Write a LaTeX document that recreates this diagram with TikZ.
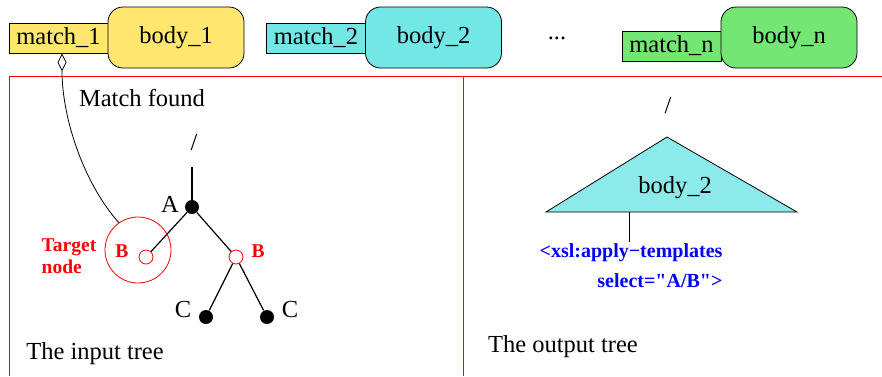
\documentclass[tikz,border=0pt]{standalone}
\usepackage{fontspec}
\setmainfont{Liberation Serif}
\usetikzlibrary{arrows.meta}
\definecolor{tplyellow}{HTML}{FFE66E}
\definecolor{tplcyan}{HTML}{73E6E6}
\definecolor{tplgreen}{HTML}{73E673}
\definecolor{outcyan}{HTML}{8CEAEA}
\tikzset{
every picture/.style={
line width=0.8pt
},
bigtext/.style={font=\fontsize{24.5}{28}\selectfont},
matchbox/.style={draw, fill=#1, bigtext, minimum width=99pt, minimum height=30pt, inner sep=0pt},
bodybox/.style={draw, fill=#1, bigtext, rounded corners=15pt, minimum width=136pt, minimum height=61pt, inner sep=0pt},
blackdot/.style={circle, fill=black, minimum size=14pt, inner sep=0pt},
hollowdot/.style={circle, draw=red, fill=white, minimum size=14pt, inner sep=0pt},
redbold/.style={text=red, font=\bfseries\fontsize{19.5}{22}\selectfont},
bluebold/.style={text=blue, font=\bfseries\fontsize{20}{30}\selectfont}
}

\begin{document}
\begin{tikzpicture}[x=1pt, y=-1pt]
      \useasboundingbox (0,0) rectangle (882,376);
      % templates
      \node [matchbox=tplyellow] (m1) at (58.5, 38) {match\_1};
      \node [bodybox=tplyellow] (b1) at (176, 37.5) {body\_1};
      \node [matchbox=tplcyan] (m2) at (316, 38) {match\_2};
      \node [bodybox=tplcyan] (b2) at (433.5, 37.5) {body\_2};
      \node [bigtext] (dots) at (557, 38) {...};
      \node [matchbox=tplgreen] (mn) at (671.5, 46) {match\_n};
      \node [bodybox=tplgreen] (bn) at (789, 37.5) {body\_n};
      % frames
      \draw [red, line width=1pt] (882, 76) -- (9, 76) -- (9, 376);
      \draw [red, line width=1pt] (463, 76) -- (463, 376);
      % input tree
      \node [bigtext] (inroot) at (194, 143) {/};
      \coordinate (intop) at (192, 167);
      \node [blackdot] (a) at (192, 207) {};
      \node [hollowdot] (bl) at (146, 257) {};
      \node [hollowdot] (br) at (236, 257) {};
      \node [blackdot] (cl) at (206, 317) {};
      \node [blackdot] (cr) at (267, 317) {};
      \draw [line width=1.2pt] (intop) -- (a);
      \draw [line width=1.2pt] (a) -- (bl);
      \draw [line width=1.2pt] (a) -- (br);
      \draw [line width=1.2pt] (br) -- (cl);
      \draw [line width=1.2pt] (br) -- (cr);
      \node [bigtext] (alabel) at (170, 204) {A};
      \node [redbold] (bllabel) at (122, 251) {B};
      \node [redbold] (brlabel) at (258, 251) {B};
      \node [bigtext] (cllabel) at (183, 309) {C};
      \node [bigtext] (crlabel) at (290, 309) {C};
      \node [circle, draw=red, minimum size=66pt, inner sep=0pt] (target) at (138, 250) {};
      \node [redbold, align=left] (targetlabel) at (69, 256) {Target\\node};
      \draw [-{Diamond[open, length=18pt, width=9pt]}] (target.125)
        .. controls (85, 185) and (62, 120) .. ([xshift=3.5pt]m1.south);
      \node [bigtext] (found) at (142, 98) {Match found};
      \node [bigtext] (intree) at (95, 354) {The input tree};
      % output tree
      \node [bigtext] (outroot) at (668, 106) {/};
      \coordinate (apex) at (667, 137);
      \coordinate (baseleft) at (546, 212);
      \coordinate (baseright) at (797, 212);
      \coordinate (stem) at (629, 212);
      \draw [fill=outcyan] (apex) -- (baseleft) -- (baseright) -- cycle;
      \node [bigtext] (outbody) at (675, 188) {body\_2};
      \node [bluebold, align=right] (applytpl) at (631, 266)
        {<xsl:apply−templates\\select=\textquotedbl A/B\textquotedbl>};
      \draw (stem) -- (stem |- 0, 242);
      \node [bigtext] (outtree) at (563, 347) {The output tree};
\end{tikzpicture}
\end{document}
